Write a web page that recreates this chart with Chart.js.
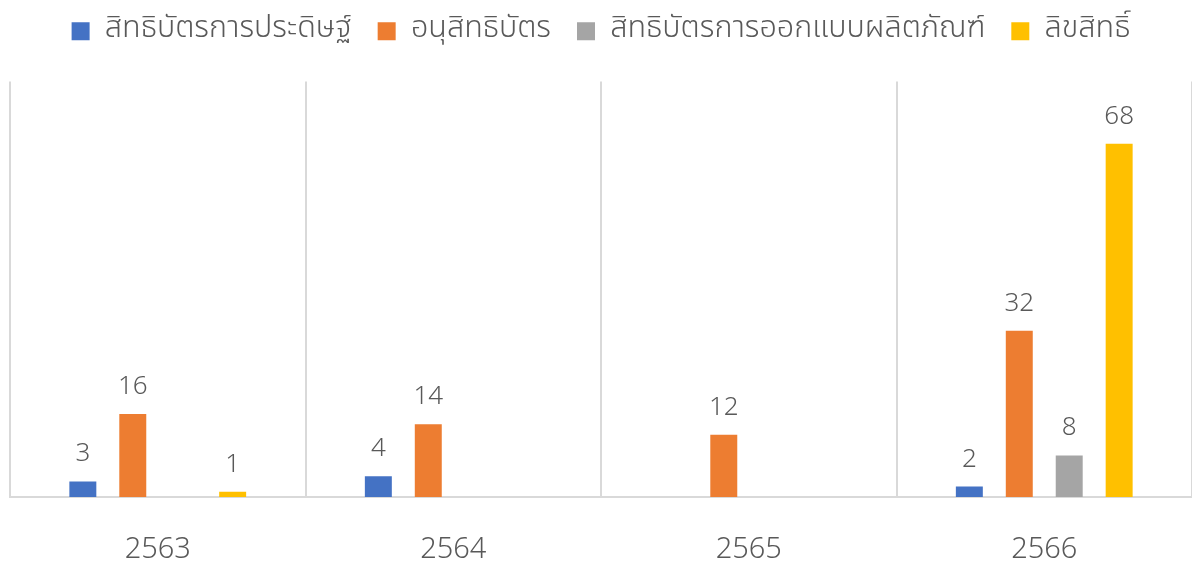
<!DOCTYPE html>
<html>
<head>
<meta charset="utf-8">
<script src="https://cdn.jsdelivr.net/npm/chart.js@4.4.1/dist/chart.umd.min.js"></script>
<style>
  html, body { margin: 0; padding: 0; background: #fff; }
  #wrap { width: 1192px; height: 566px; }
</style>
</head>
<body>
<div id="wrap"><canvas id="chart"></canvas></div>
<script>
const years = ['2563', '2564', '2565', '2566'];
const seriesNames = ['สิทธิบัตรการประดิษฐ์', 'อนุสิทธิบัตร', 'สิทธิบัตรการออกแบบผลิตภัณฑ์', 'ลิขสิทธิ์'];
const inventionPatents = [3, 4, null, 2];
const pettyPatents = [16, 14, 12, 32];
const designPatents = [null, null, null, 8];
const copyrights = [1, null, null, 68];
const seriesColors = ['#4472C4', '#ED7D31', '#A5A5A5', '#FFC000'];

const fontFamily = "'Noto Sans Thai', 'Noto Sans', 'DejaVu Sans', sans-serif";
const textColor = '#595959';

// value labels above each bar
const valueLabels = {
    id: 'valueLabels',
    afterDatasetsDraw: (chart) => {
        const ctx = chart.ctx;
        ctx.save();
        ctx.fillStyle = textColor;
        ctx.font = '300 26px ' + fontFamily;
        ctx.textAlign = 'center';
        ctx.textBaseline = 'alphabetic';
        chart.data.datasets.forEach((ds, i) => {
            chart.getDatasetMeta(i).data.forEach((bar, j) => {
                const v = ds.data[j];
                if (v === null || v === undefined) return;
                ctx.fillText(String(v), bar.x, bar.y - 20);
            });
        });
        ctx.restore();
    }
};

// extra room under the legend
const legendGap = {
    id: 'legendGap',
    beforeInit: (chart) => {
        const fit = chart.legend.fit;
        chart.legend.fit = function () {
            fit.bind(chart.legend)();
            this.height += 25;
        };
    }
};

new Chart(document.getElementById('chart'), {
    type: 'bar',
    data: {
        labels: years,
        datasets: [
            { label: seriesNames[0], data: inventionPatents, backgroundColor: seriesColors[0] },
            { label: seriesNames[1], data: pettyPatents, backgroundColor: seriesColors[1] },
            { label: seriesNames[2], data: designPatents, backgroundColor: seriesColors[2] },
            { label: seriesNames[3], data: copyrights, backgroundColor: seriesColors[3] }
        ]
    },
    options: {
        animation: false,
        responsive: true,
        maintainAspectRatio: false,
        layout: { padding: { left: 10, right: 0, top: -10, bottom: 0 } },
        datasets: {
            bar: { categoryPercentage: 0.676, barPercentage: 0.54 }
        },
        plugins: {
            legend: {
                position: 'top',
                labels: {
                    boxWidth: 18,
                    boxHeight: 18,
                    padding: 26,
                    color: textColor,
                    font: { family: fontFamily, size: 30.5, weight: '300' }
                }
            },
            tooltip: { enabled: false }
        },
        scales: {
            x: {
                grid: { offset: true, color: '#d9d9d9', lineWidth: 2, drawTicks: false },
                border: { color: '#d9d9d9', width: 2 },
                ticks: {
                    color: textColor,
                    padding: 38,
                    font: { family: fontFamily, size: 29, weight: '300' }
                },
                afterFit: (scale) => { scale.height = 69; }
            },
            y: {
                display: false,
                min: 0,
                max: 80
            }
        }
    },
    plugins: [valueLabels, legendGap]
});
</script>
</body>
</html>
